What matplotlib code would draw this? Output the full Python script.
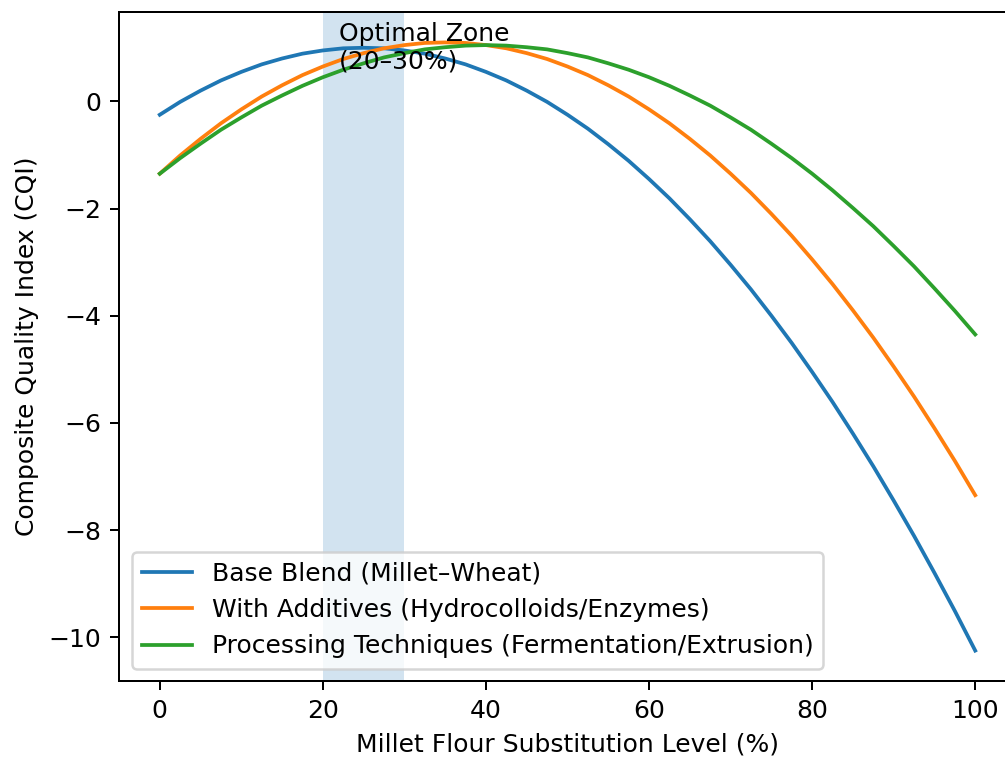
import matplotlib
matplotlib.use("Agg")
import matplotlib.pyplot as plt

substitution = [0, 2.5, 5, 7.5, 10, 12.5, 15, 17.5, 20, 22.5, 25, 27.5, 30, 32.5, 35, 37.5,
                40, 42.5, 45, 47.5, 50, 52.5, 55, 57.5, 60, 62.5, 65, 67.5, 70, 72.5, 75,
                77.5, 80, 82.5, 85, 87.5, 90, 92.5, 95, 97.5, 100]
base_blend = [-0.25, -0.01, 0.20, 0.39, 0.55, 0.69, 0.80, 0.89, 0.95, 0.99, 1.00, 0.99,
              0.95, 0.89, 0.80, 0.69, 0.55, 0.39, 0.20, -0.01, -0.25, -0.51, -0.80, -1.11,
              -1.45, -1.81, -2.20, -2.61, -3.05, -3.51, -4.00, -4.51, -5.05, -5.61, -6.20,
              -6.81, -7.45, -8.11, -8.80, -9.51, -10.25]
with_additives = [-1.35, -1.01, -0.70, -0.41, -0.15, 0.09, 0.30, 0.49, 0.65, 0.79, 0.90,
                  0.99, 1.05, 1.09, 1.10, 1.09, 1.05, 0.99, 0.90, 0.79, 0.65, 0.49, 0.30,
                  0.09, -0.15, -0.41, -0.70, -1.01, -1.35, -1.71, -2.10, -2.51, -2.95,
                  -3.41, -3.90, -4.41, -4.95, -5.51, -6.10, -6.71, -7.35]
processing = [-1.35, -1.06, -0.79, -0.53, -0.30, -0.08, 0.11, 0.29, 0.45, 0.59, 0.71, 0.82,
              0.90, 0.97, 1.01, 1.04, 1.05, 1.04, 1.01, 0.97, 0.90, 0.82, 0.71, 0.59, 0.45,
              0.29, 0.11, -0.08, -0.30, -0.53, -0.79, -1.06, -1.35, -1.66, -1.99, -2.33,
              -2.70, -3.08, -3.49, -3.91, -4.35]

labels = ["Base Blend (Millet–Wheat)",
          "With Additives (Hydrocolloids/Enzymes)",
          "Processing Techniques (Fermentation/Extrusion)"]
zone = (20, 30)
zone_label = "Optimal Zone\n(20–30%)"

fig = plt.figure(figsize=(1005 / 180, 757 / 180), dpi=180)
ax = fig.add_axes([119 / 1005, 76 / 757, 897 / 1005, 669 / 757])

for series, lab in zip([base_blend, with_additives, processing], labels):
    ax.plot(substitution, series, label=lab, solid_joinstyle="round")
ax.axvspan(zone[0], zone[1], color="tab:blue", alpha=0.2, lw=0)
ax.text(22, 1.0, zone_label, va="center", ha="left")

ax.set_xlabel("Millet Flour Substitution Level (%)")
ax.set_ylabel("Composite Quality Index (CQI)")
ax.legend(loc="lower left")

fig.savefig("out.png", dpi=180)
